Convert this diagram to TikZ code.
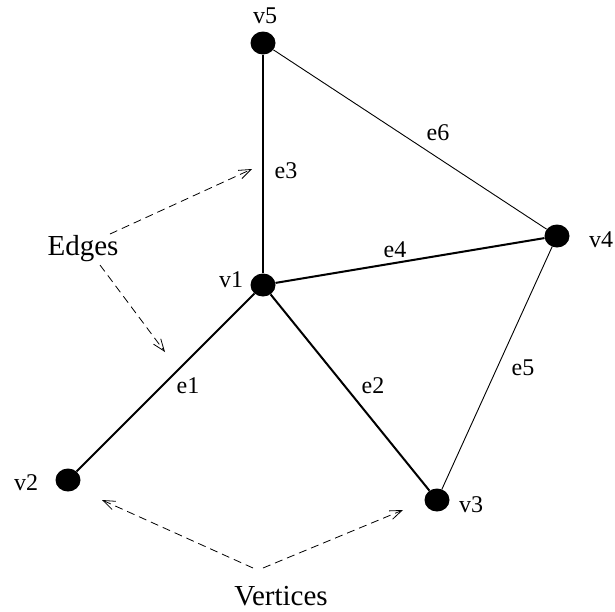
\documentclass[tikz,border=0pt]{standalone}
\usepackage{fontspec}
\setmainfont{Liberation Serif}
\usetikzlibrary{shapes.geometric,arrows.meta}
\begin{document}
\begin{tikzpicture}[x=1pt,y=-1pt,
  vertex/.style={ellipse,fill=black,draw=none,minimum width=25pt,minimum height=23pt,inner sep=0pt},
  lbl/.style={anchor=base,inner sep=0pt,font=\fontsize{24}{26}\selectfont},
  big/.style={anchor=base,inner sep=0pt,font=\fontsize{29}{32}\selectfont},
  heavy/.style={line width=2pt},
  light/.style={line width=0.9pt},
  pointer/.style={line width=0.8pt,dash pattern=on 8pt off 5pt,-{Straight Barb[length=12pt,width=9pt]}}]
\useasboundingbox (0,0) rectangle (615,611);
% vertices
\node[vertex] (v5) at (263,43) {};
\node[vertex] (v1) at (263,285) {};
\node[vertex] (v4) at (557,236) {};
\node[vertex] (v2) at (68,480) {};
\node[vertex] (v3) at (437,500) {};
% edges
\draw[heavy] (v1) -- (v5);
\draw[heavy] (v1) -- (v4);
\draw[heavy] (v1) -- (v2);
\draw[heavy] (v1) -- (v3);
\draw[light] (v5) -- (v4);
\draw[light] (v4) -- (v3);
% labels
\node[lbl] (lv5) at (265,23) {v5};
\node[lbl] (lv1) at (231,287) {v1};
\node[lbl] (lv4) at (601,247) {v4};
\node[lbl] (lv2) at (26,490) {v2};
\node[lbl] (lv3) at (471,512) {v3};
\node[lbl] (le1) at (188,393) {e1};
\node[lbl] (le2) at (373,393) {e2};
\node[lbl] (le3) at (286,178) {e3};
\node[lbl] (le4) at (395,257) {e4};
\node[lbl] (le5) at (523,375) {e5};
\node[lbl] (le6) at (438,140) {e6};
\node[big] (edges) at (83,255) {Edges};
\node[big] (vertices) at (281,605) {Vertices};
% pointer arrows
\coordinate (ea) at (110,234);
\coordinate (eb) at (100,265);
\coordinate (ta) at (252,169);
\coordinate (tb) at (165,352);
\coordinate (va) at (253,568);
\coordinate (vb) at (263,568);
\coordinate (tc) at (102,500);
\coordinate (td) at (403,510);
\draw[pointer] (ea) -- (ta);
\draw[pointer] (eb) -- (tb);
\draw[pointer] (va) -- (tc);
\draw[pointer] (vb) -- (td);
\end{tikzpicture}
\end{document}
